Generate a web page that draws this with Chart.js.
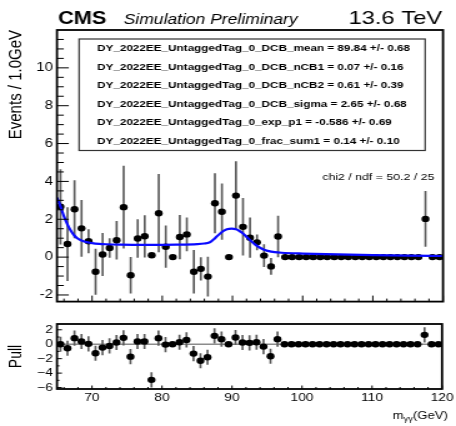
<!DOCTYPE html>
<html>
<head>
<meta charset="utf-8">
<script src="https://cdn.jsdelivr.net/npm/chart.js@4.4.1/dist/chart.umd.min.js"></script>
<style>
  html, body { margin: 0; padding: 0; background: #fff; }
  #wrap { position: relative; width: 456px; height: 426px; overflow: hidden; background: #fff; }
  canvas { position: absolute; left: 0; }
</style>
</head>
<body>
<div id="wrap">
  <!-- canvases are drawn narrower and stretched, like the ROOT export -->
  <canvas id="top" width="365" height="312" style="top:0px;width:456px;height:312px"></canvas>
  <canvas id="pull" width="365" height="114" style="top:312px;width:456px;height:114px"></canvas>
</div>
<script>
// 1 GeV bins, 65-120
const binCentres = [65.5, 66.5, 67.5, 68.5, 69.5, 70.5, 71.5, 72.5, 73.5, 74.5,
  75.5, 76.5, 77.5, 78.5, 79.5, 80.5, 81.5, 82.5, 83.5, 84.5,
  85.5, 86.5, 87.5, 88.5, 89.5, 90.5, 91.5, 92.5, 93.5, 94.5,
  95.5, 96.5, 97.5, 98.5, 99.5, 100.5, 101.5, 102.5, 103.5, 104.5,
  105.5, 106.5, 107.5, 108.5, 109.5, 110.5, 111.5, 112.5, 113.5, 114.5,
  115.5, 116.5, 117.5, 118.5, 119.5];

const events = [2.66, 0.69, 2.53, 1.52, 0.84, -0.77, 0.14, 0.48, 0.89, 2.64,
  -0.96, 0.98, 1.10, 0.10, 2.32, 0.55, 0, 1.06, 1.20, -0.77,
  -0.62, -1.03, 2.85, 2.40, 0, 3.25, 1.60, 1.03, 0.78, 0.08,
  -0.49, 1.09, 0, 0, 0, 0, 0, 0, 0, 0,
  0, 0, 0, 0, 0, 0, 0, 0, 0, 0,
  0, 0, 2.02, 0, 0];

const eventErr = [1.97, 1.93, 1.52, 1.48, 0.62, 1.20, 1.12, 0.50, 1.00, 2.17,
  0.95, 1.00, 1.10, 0.10, 2.05, 1.10, 0, 1.15, 0.87, 1.13,
  0.60, 1.03, 1.57, 1.47, 0, 1.80, 1.50, 1.05, 0.40, 0.58,
  0.42, 1.08, 0, 0, 0, 0, 0, 0, 0, 0,
  0, 0, 0, 0, 0, 0, 0, 0, 0, 0,
  0, 0, 1.46, 0, 0];

const pullVals = [0.0, -0.56, 0.84, 0.37, 0.05, -1.26, -0.47, -0.23, 0.23, 0.88,
  -1.72, 0.37, 0.37, -4.93, 0.84, -0.05, 0, 0.28, 0.60, -1.30,
  -2.28, -1.81, 1.16, 0.70, 0, 0.93, 0.23, 0.19, 0.28, -0.33,
  -1.67, 0.70, 0, 0, 0, 0, 0, 0, 0, 0,
  0, 0, 0, 0, 0, 0, 0, 0, 0, 0,
  0, 0, 1.30, 0, 0];

const pullErr = [1, 1, 1, 1, 1, 1, 1, 1, 1, 1,
  1, 1, 1, 1, 1, 1, 0, 1, 1, 1,
  1, 1, 1, 1, 0, 1, 1, 1, 1, 1,
  1, 1, 0, 0, 0, 0, 0, 0, 0, 0,
  0, 0, 0, 0, 0, 0, 0, 0, 0, 0,
  0, 0, 1, 0, 0];

// fitted pdf
const fitMass = [65.0, 65.5, 66.0, 66.5, 67.0, 67.5, 68.0, 68.5, 69.0, 70.0,
  71.0, 72.0, 74.0, 78.0, 82.0, 85.0, 86.0, 86.7, 87.2, 87.8,
  88.5, 89.2, 89.9, 90.5, 91.0, 91.5, 92.0, 92.5, 93.0, 93.5,
  94.0, 94.5, 95.0, 95.5, 96.0, 97.0, 100.0, 105.0, 110.0, 115.0, 120.0];
const fitVals = [3.15, 2.68, 2.15, 1.72, 1.38, 1.13, 0.97, 0.88, 0.81, 0.74,
  0.70, 0.68, 0.66, 0.65, 0.66, 0.69, 0.72, 0.77, 0.90, 1.10,
  1.33, 1.47, 1.51, 1.47, 1.38, 1.25, 1.08, 0.90, 0.73, 0.59,
  0.48, 0.39, 0.33, 0.29, 0.26, 0.23, 0.19, 0.15, 0.11, 0.08, 0.06];

const yTicksTop = [-2, 0, 2, 4, 6, 8, 10];
const yTicksPull = [-6, -4, -2, 0, 2];
const xTicks = [70, 80, 90, 100, 110, 120];

const fitParams = [
  'DY_2022EE_UntaggedTag_0_DCB_mean = 89.84 +/- 0.68',
  'DY_2022EE_UntaggedTag_0_DCB_nCB1 = 0.07 +/- 0.16',
  'DY_2022EE_UntaggedTag_0_DCB_nCB2 = 0.61 +/- 0.39',
  'DY_2022EE_UntaggedTag_0_DCB_sigma = 2.65 +/- 0.68',
  'DY_2022EE_UntaggedTag_0_exp_p1 = -0.586 +/- 0.69',
  'DY_2022EE_UntaggedTag_0_frac_sum1 = 0.14 +/- 0.10'
];
const chi2Text = 'chi2 / ndf = 50.2 / 25';

const FONT = "'Liberation Sans', Arial, Helvetica, sans-serif";
Chart.defaults.font.family = FONT;
Chart.defaults.color = '#000';

// ROOT style frame with inward ticks
function rootFrame(cfg) {
  return {
    id: 'rootFrame',
    beforeDatasetsDraw(chart) {
      if (!cfg.zeroLine) return;
      const { ctx, chartArea: a, scales: { y } } = chart;
      const py = y.getPixelForValue(0);
      ctx.save();
      ctx.strokeStyle = '#8c8c8c';
      ctx.lineWidth = 1.5;
      ctx.beginPath();
      ctx.moveTo(a.left, py);
      ctx.lineTo(a.right, py);
      ctx.stroke();
      ctx.restore();
    },
    afterDraw(chart) {
      const { ctx, chartArea: a, scales: { x, y } } = chart;
      ctx.save();
      ctx.strokeStyle = '#000';
      ctx.lineWidth = 1;
      ctx.beginPath();
      for (let k = 33; k <= 60; k++) {
        const v = 2 * k;
        const px = x.getPixelForValue(v);
        const len = v % 10 === 0 ? cfg.xMajor : cfg.xMinor;
        ctx.moveTo(px, a.bottom);
        ctx.lineTo(px, a.bottom - len);
      }
      for (let k = cfg.yFrom; k <= cfg.yTo; k++) {
        const v = k * cfg.yStep;
        const py = y.getPixelForValue(v);
        const len = k % cfg.yEvery === 0 ? cfg.yMajor : cfg.yMinor;
        ctx.moveTo(a.left, py);
        ctx.lineTo(a.left + len, py);
      }
      ctx.stroke();
      ctx.lineWidth = 1.8;
      ctx.strokeRect(a.left, a.top, a.right - a.left, a.bottom - a.top);
      ctx.restore();
    }
  };
}

const topLabels = {
  id: 'topLabels',
  afterDraw(chart) {
    const ctx = chart.ctx;
    ctx.save();
    ctx.fillStyle = '#000';
    ctx.textBaseline = 'alphabetic';
    ctx.textAlign = 'left';
    ctx.font = 'bold 17.5px ' + FONT;
    ctx.fillText('CMS', 46.4, 24);
    ctx.font = 'italic 14px ' + FONT;
    ctx.fillText('Simulation Preliminary', 99, 24);
    ctx.textAlign = 'right';
    ctx.font = '19px ' + FONT;
    ctx.fillText('13.6 TeV', 353.9, 24);

    ctx.strokeStyle = '#333';
    ctx.lineWidth = 1.2;
    ctx.strokeRect(63.3, 39, 277, 111.5);
    ctx.textAlign = 'left';
    ctx.textBaseline = 'middle';
    ctx.font = 'bold 9.4px ' + FONT;
    fitParams.forEach((t, i) => ctx.fillText(t, 77.7, 48.5 + i * 18.5));

    ctx.font = '9.9px ' + FONT;
    ctx.fillText(chi2Text, 258, 177);
    ctx.restore();
  }
};

const pullLabels = {
  id: 'pullLabels',
  afterDraw(chart) {
    const ctx = chart.ctx;
    ctx.save();
    ctx.fillStyle = '#000';
    ctx.textBaseline = 'alphabetic';
    ctx.textAlign = 'left';
    const big = '10.5px ' + FONT, small = '7.5px ' + FONT;
    ctx.font = big;
    const w1 = ctx.measureText('m').width;
    const w3 = ctx.measureText('(GeV)').width;
    ctx.font = small;
    const w2 = ctx.measureText('γγ').width;
    let x0 = 358.5 - (w1 + w2 + w3);
    ctx.font = big;
    ctx.fillText('m', x0, 106.5);
    ctx.font = small;
    ctx.fillText('γγ', x0 + w1, 109);
    ctx.font = big;
    ctx.fillText('(GeV)', x0 + w1 + w2, 106.5);
    ctx.restore();
  }
};

const xyPoints = (xs, ys) => xs.map((m, i) => ({ x: m, y: ys[i] }));
const barsFrom = (xs, ys, es) => xs.map((m, i) => ({ x: m, y: [ys[i] - es[i], ys[i] + es[i]] }));

new Chart(document.getElementById('top'), {
  type: 'scatter',
  data: {
    datasets: [
      {
        type: 'line',
        label: 'fit',
        data: xyPoints(fitMass, fitVals),
        showLine: true,
        borderColor: '#0a0aff',
        borderWidth: 2.2,
        pointRadius: 0,
        cubicInterpolationMode: 'monotone',
        fill: false
      },
      {
        type: 'scatter',
        label: 'data',
        data: xyPoints(binCentres, events),
        pointRadius: 3.2,
        pointHoverRadius: 3.2,
        pointBackgroundColor: '#000',
        pointBorderWidth: 0
      },
      {
        type: 'bar',
        label: 'errors',
        data: barsFrom(binCentres, events, eventErr),
        backgroundColor: '#5a5a5a',
        barThickness: 1,
        grouped: false,
        borderWidth: 0
      }
    ]
  },
  options: {
    responsive: false,
    animation: false,
    devicePixelRatio: 1,
    events: [],
    layout: { padding: { top: 30, right: 10.4, bottom: 2, left: 0 } },
    plugins: { legend: { display: false }, tooltip: { enabled: false } },
    scales: {
      x: { type: 'linear', min: 65, max: 120, offset: false, display: false, grid: { offset: false } },
      y: {
        type: 'linear',
        min: -2.35,
        max: 12,
        beginAtZero: false,
        afterBuildTicks: s => { s.ticks = yTicksTop.map(v => ({ value: v })); },
        afterFit: s => { s.width = 45.6; },
        grid: { display: false, drawTicks: false },
        border: { display: false },
        ticks: { color: '#000', font: { size: 12 }, padding: 3.2, callback: v => String(v) },
        title: {
          display: true, text: 'Events / 1.0GeV', align: 'end', color: '#000',
          font: { size: 15 }, padding: { top: 3.7, bottom: 0 }
        }
      }
    }
  },
  plugins: [rootFrame({ xMajor: 6, xMinor: 3, yFrom: -4, yTo: 23, yStep: 0.5, yEvery: 4, yMajor: 9.5, yMinor: 5.5 }), topLabels]
});

new Chart(document.getElementById('pull'), {
  type: 'scatter',
  data: {
    datasets: [
      {
        type: 'scatter',
        label: 'pull',
        data: xyPoints(binCentres, pullVals),
        pointRadius: 3.2,
        pointHoverRadius: 3.2,
        pointBackgroundColor: '#000',
        pointBorderWidth: 0
      },
      {
        type: 'bar',
        label: 'pull errors',
        data: barsFrom(binCentres, pullVals, pullErr),
        backgroundColor: '#5a5a5a',
        barThickness: 1,
        grouped: false,
        borderWidth: 0
      }
    ]
  },
  options: {
    responsive: false,
    animation: false,
    devicePixelRatio: 1,
    events: [],
    layout: { padding: { top: 12, right: 10.4, bottom: 0, left: 0 } },
    plugins: { legend: { display: false }, tooltip: { enabled: false } },
    scales: {
      x: {
        type: 'linear', min: 65, max: 120, offset: false,
        afterBuildTicks: s => { s.ticks = xTicks.map(v => ({ value: v })); },
        afterFit: s => { s.height = 37; },
        grid: { display: false, drawTicks: false, offset: false },
        border: { display: false },
        ticks: { color: '#000', font: { size: 11 }, padding: 2, maxRotation: 0, autoSkip: false, callback: v => String(v) }
      },
      y: {
        type: 'linear',
        min: -6.2,
        max: 2.8,
        beginAtZero: false,
        afterBuildTicks: s => { s.ticks = yTicksPull.map(v => ({ value: v })); },
        afterFit: s => { s.width = 45.6; },
        grid: { display: false, drawTicks: false },
        border: { display: false },
        ticks: { color: '#000', font: { size: 11 }, padding: 3.2, callback: v => String(v).replace('-', '\u2212') },
        title: {
          display: true, text: 'Pull', align: 'center', color: '#000',
          font: { size: 14 }, padding: { top: 4.6, bottom: 0 }
        }
      }
    }
  },
  plugins: [rootFrame({ xMajor: 3.5, xMinor: 2, yFrom: -6, yTo: 2, yStep: 1, yEvery: 2, yMajor: 4, yMinor: 2, zeroLine: true }), pullLabels]
});
</script>
</body>
</html>
